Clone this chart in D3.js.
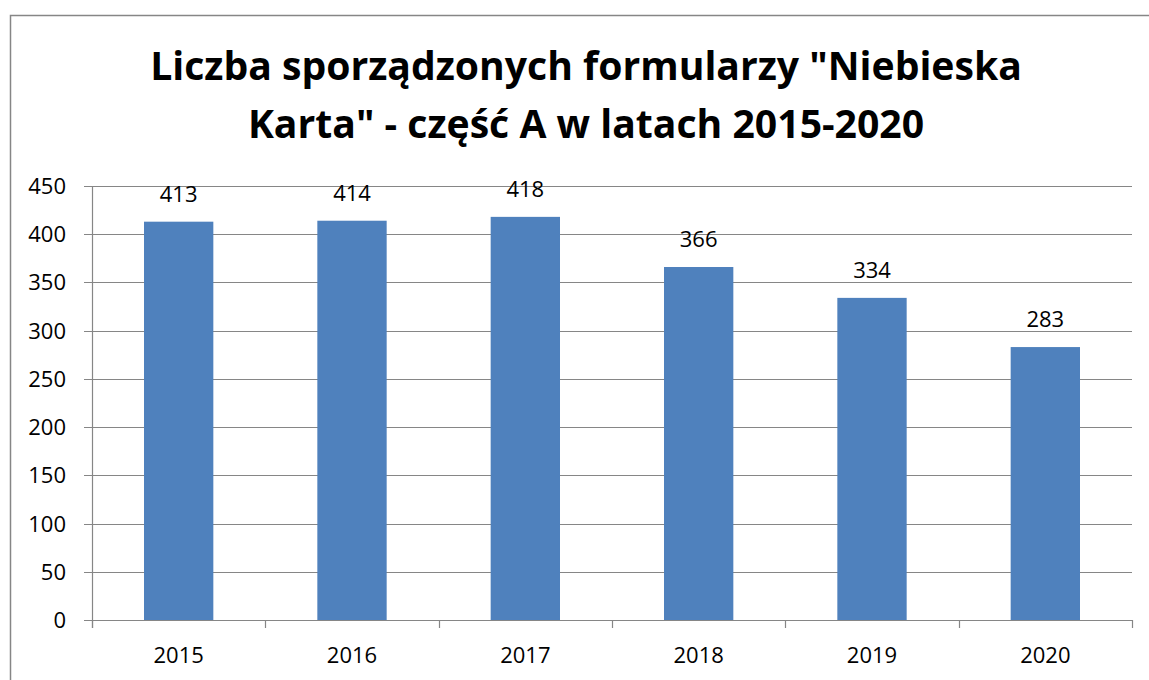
<!DOCTYPE html>
<html>
  <head>
    <meta charset="utf-8">
    <title>Niebieska Karta 2015-2020</title>
    <script src="https://cdn.jsdelivr.net/npm/d3@7"></script>
    <style>
      body { margin: 0; background: #fff; }
      svg { display: block; font-family: "Open Sans", "Noto Sans", sans-serif; }
    </style>
  </head>
  <body>
    <svg id="chart" width="1149" height="680"></svg>

    <script>
      // data
      years = ["2015", "2016", "2017", "2018", "2019", "2020"];
      counts = [413, 414, 418, 366, 334, 283];
      yTicks = [0, 50, 100, 150, 200, 250, 300, 350, 400, 450];
      titleLines = ["Liczba sporządzonych formularzy \"Niebieska", "Karta\" - część A w latach 2015-2020"];

      svg = d3.select("#chart");
      margin = { top: 186, right: 1132, bottom: 620, left: 92 };
      grey = "#868686";

      // outer frame
      svg.append("rect")
        .attr("x", 10.5)
        .attr("y", 15.5)
        .attr("width", 1160)
        .attr("height", 700)
        .attr("fill", "none")
        .attr("stroke", grey)
        .attr("stroke-width", 1.5);

      // title, sized so the first line spans the same width as the original
      title = svg.append("g");
      titleText = title.selectAll("text")
        .data(titleLines)
        .enter().append("text")
          .attr("x", 586)
          .attr("y", function(d, i) { return 80 + i * 58; })
          .attr("text-anchor", "middle")
          .style("font-weight", "bold")
          .style("font-size", "40px")
          .text(function(d) { return d; });
      firstWidth = titleText.node().getComputedTextLength();
      titleText.style("font-size", (40 * 872 / firstWidth) + "px");

      // scales
      x = d3.scaleBand()
        .domain(years)
        .range([margin.left, margin.right])
        .paddingInner(0.6)
        .paddingOuter(0.3);
      y = d3.scaleLinear()
        .domain([0, 450])
        .range([margin.bottom, margin.top]);

      // gridlines
      svg.append("g")
        .selectAll("line")
        .data(yTicks)
        .enter().append("line")
          .attr("x1", margin.left - 8)
          .attr("x2", margin.right)
          .attr("y1", function(d) { return Math.round(y(d)) + 0.5; })
          .attr("y2", function(d) { return Math.round(y(d)) + 0.5; })
          .attr("stroke", grey)
          .attr("stroke-width", 1.2);

      // y axis labels
      svg.append("g")
        .selectAll("text")
        .data(yTicks)
        .enter().append("text")
          .attr("x", 66)
          .attr("y", function(d) { return y(d) + 8; })
          .attr("text-anchor", "end")
          .style("font-size", "22px")
          .text(function(d) { return d; });

      // y axis line
      svg.append("line")
        .attr("x1", margin.left + 0.5)
        .attr("x2", margin.left + 0.5)
        .attr("y1", margin.top)
        .attr("y2", margin.bottom + 8)
        .attr("stroke", grey)
        .attr("stroke-width", 1.2);

      // x axis tick marks at category boundaries
      step = x.step();
      boundaries = years.map(function(d) { return x(d) - x.paddingOuter() * step + x.paddingInner() * step * 0; });
      svg.append("g")
        .selectAll("line")
        .data(d3.range(years.length + 1))
        .enter().append("line")
          .attr("x1", function(i) { return Math.round(margin.left + i * (margin.right - margin.left) / years.length) + 0.5; })
          .attr("x2", function(i) { return Math.round(margin.left + i * (margin.right - margin.left) / years.length) + 0.5; })
          .attr("y1", margin.bottom)
          .attr("y2", margin.bottom + 8)
          .attr("stroke", grey)
          .attr("stroke-width", 1.2);

      // bars
      svg.append("g")
        .selectAll("rect")
        .data(counts)
        .enter().append("rect")
          .attr("x", function(d, i) { return x(years[i]); })
          .attr("y", function(d) { return y(d); })
          .attr("width", x.bandwidth())
          .attr("height", function(d) { return y(0) - y(d); })
          .attr("fill", "#4F81BD");

      // value labels
      svg.append("g")
        .selectAll("text")
        .data(counts)
        .enter().append("text")
          .attr("x", function(d, i) { return x(years[i]) + x.bandwidth() / 2; })
          .attr("y", function(d) { return y(d) - 20; })
          .attr("text-anchor", "middle")
          .style("font-size", "22px")
          .text(function(d) { return d; });

      // x axis labels
      svg.append("g")
        .selectAll("text")
        .data(years)
        .enter().append("text")
          .attr("x", function(d) { return x(d) + x.bandwidth() / 2; })
          .attr("y", 663)
          .attr("text-anchor", "middle")
          .style("font-size", "22px")
          .text(function(d) { return d; });
    </script>
  </body>
</html>
